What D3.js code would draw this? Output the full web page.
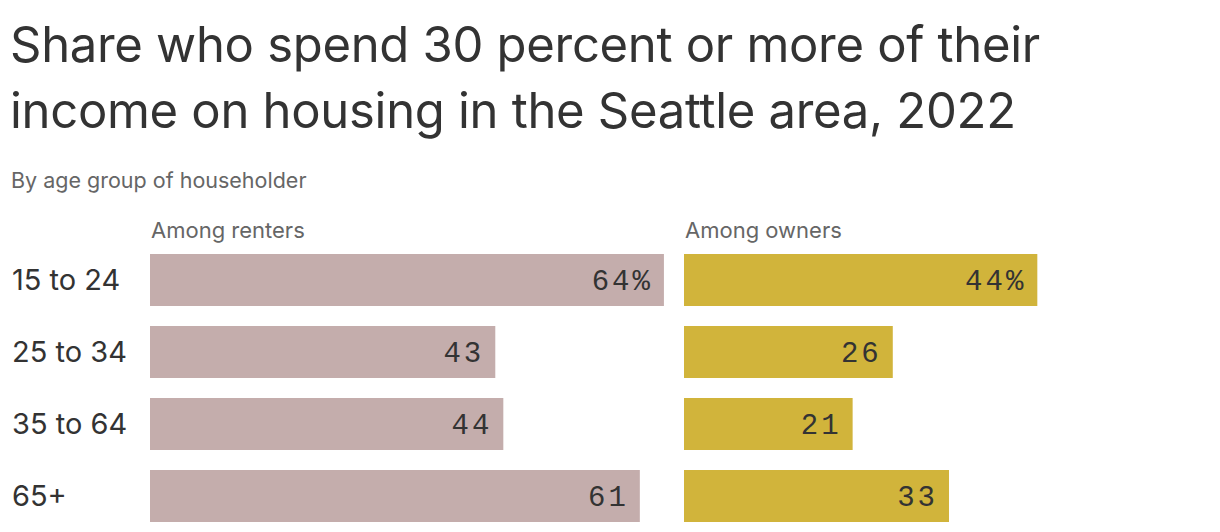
<!DOCTYPE html>
<html><head><meta charset="utf-8">
<script src="https://cdn.jsdelivr.net/npm/d3@7"></script>
<style>body{margin:0;background:#fff}</style>
</head><body><svg id="c" width="1220" height="532"></svg>
<script>
const title = ["Share who spend 30 percent or more of their", "income on housing in the Seattle area, 2022"];
const subtitle = "By age group of householder";
const categories = ["15 to 24", "25 to 34", "35 to 64", "65+"];
const renters = [64, 43, 44, 61];
const owners = [44, 26, 21, 33];
const seriesNames = ["Among renters", "Among owners"];
const colors = ["#c4adac", "#d1b43b"];

const svg = d3.select("#c");
const sans = "Inter, 'Open Sans', sans-serif";
const mono = "'Liberation Mono', 'DejaVu Sans Mono', monospace";

svg.selectAll("text.title").data(title).join("text")
  .attr("x", 10).attr("y", (d, i) => 62 + i * 66)
  .attr("font-family", sans).attr("font-size", 49).attr("fill", "#333")
  .attr("letter-spacing", -0.3)
  .text(d => d);
svg.append("text").attr("x", 11).attr("y", 188)
  .attr("font-family", sans).attr("font-size", 21.5).attr("fill", "#666").text(subtitle);

const y = d3.scaleBand().domain(categories).range([254, 522]).paddingInner(20 / 72).paddingOuter(0);
const x = d3.scaleLinear().domain([0, 100]).range([0, 803]);
const starts = [150, 684];
const data = [renters, owners];

svg.selectAll("text.cat").data(categories).join("text")
  .attr("x", 12).attr("y", d => y(d) + y.bandwidth() / 2 + 10)
  .attr("font-family", sans).attr("font-size", 29).attr("fill", "#333").text(d => d);

data.forEach((vals, s) => {
  const g = svg.append("g");
  g.append("text").attr("x", starts[s] + 1).attr("y", 238)
    .attr("font-family", sans).attr("font-size", 22).attr("fill", "#666").text(seriesNames[s]);
  g.selectAll("rect").data(vals).join("rect")
    .attr("x", starts[s]).attr("y", (d, i) => y(categories[i]))
    .attr("width", d => x(d)).attr("height", y.bandwidth()).attr("fill", colors[s]);
  g.selectAll("text.v").data(vals).join("text")
    .attr("x", d => starts[s] + x(d) - 11).attr("y", (d, i) => y(categories[i]) + y.bandwidth() / 2 + 10)
    .attr("text-anchor", "end").attr("font-family", mono).attr("font-size", 29)
    .attr("letter-spacing", 3).attr("fill", "#333")
    .text((d, i) => i === 0 ? d + "%" : d);
});
</script></body></html>
